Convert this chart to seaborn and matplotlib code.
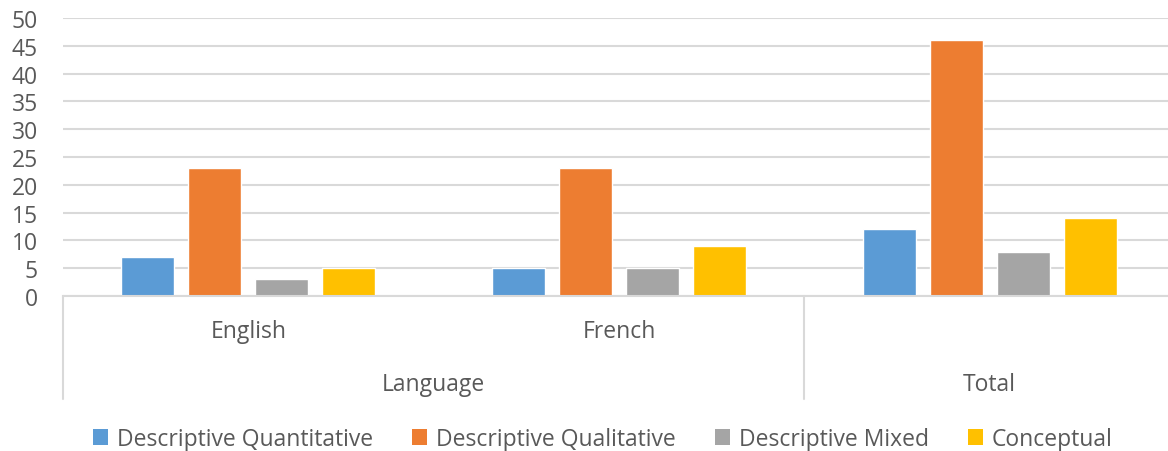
import pandas as pd
import matplotlib.pyplot as plt
import seaborn as sns
from matplotlib.patches import Patch

# values
groups = ["English", "French", "Total"]
series = ["Descriptive Quantitative", "Descriptive Qualitative", "Descriptive Mixed", "Conceptual"]
quantitative = [7, 5, 12]
qualitative = [23, 23, 46]
mixed = [3, 5, 8]
conceptual = [5, 9, 14]
colors = ["#5b9bd5", "#ed7d31", "#a5a5a5", "#ffc000"]

rows = []
for s, vals in zip(series, [quantitative, qualitative, mixed, conceptual]):
    for g, v in zip(groups, vals):
        rows.append({"group": g, "type": s, "count": v})
df = pd.DataFrame(rows)

sns.set_style("white")
plt.rcParams["font.family"] = ["Open Sans", "DejaVu Sans"]
text_col = "#595959"
line_col = "#d9d9d9"
fs = 16.5

fig = plt.figure(figsize=(11.68, 4.52), dpi=100)
ax = fig.add_axes([63 / 1168, 1 - 297 / 452, 1112 / 1168, 278 / 452])

sns.barplot(data=df, x="group", y="count", hue="type", hue_order=series,
            palette=colors, width=0.724, gap=0.21, saturation=1,
            ax=ax, legend=False)

ax.set_ylim(0, 50)
ax.set_xlim(-0.5, 2.5)
ax.set_yticks(range(0, 51, 5))
ax.yaxis.grid(True, color=line_col, linewidth=1.5)
ax.set_axisbelow(True)
ax.tick_params(axis="y", length=0, pad=18, labelsize=fs, labelcolor=text_col)
ax.set_xticks([])
ax.set_xlabel("")
ax.set_ylabel("")
for side in ["top", "right", "left"]:
    ax.spines[side].set_visible(False)
ax.spines["bottom"].set_color(line_col)
ax.spines["bottom"].set_linewidth(1.5)

# multi-level category axis
trans = ax.get_xaxis_transform()
for xb in [-0.5, 1.5]:
    ax.plot([xb, xb], [0, -0.37], color=line_col, linewidth=1.5,
            transform=trans, clip_on=False)
for i, g in enumerate(["English", "French"]):
    ax.text(i, -0.125, g, transform=trans, ha="center", va="center",
            fontsize=fs, color=text_col)
ax.text(0.5, -0.315, "Language", transform=trans, ha="center", va="center",
        fontsize=fs, color=text_col)
ax.text(2, -0.315, "Total", transform=trans, ha="center", va="center",
        fontsize=fs, color=text_col)

handles = [Patch(facecolor=c, edgecolor="none", label=s) for c, s in zip(colors, series)]
fig.legend(handles=handles, loc="center", bbox_to_anchor=(603 / 1168, 1 - 440 / 452),
           ncol=4, frameon=False, fontsize=fs, labelcolor=text_col,
           handlelength=0.65, handleheight=0.65, handletextpad=0.4,
           columnspacing=1.7)

fig.savefig("out.png", dpi=100)
